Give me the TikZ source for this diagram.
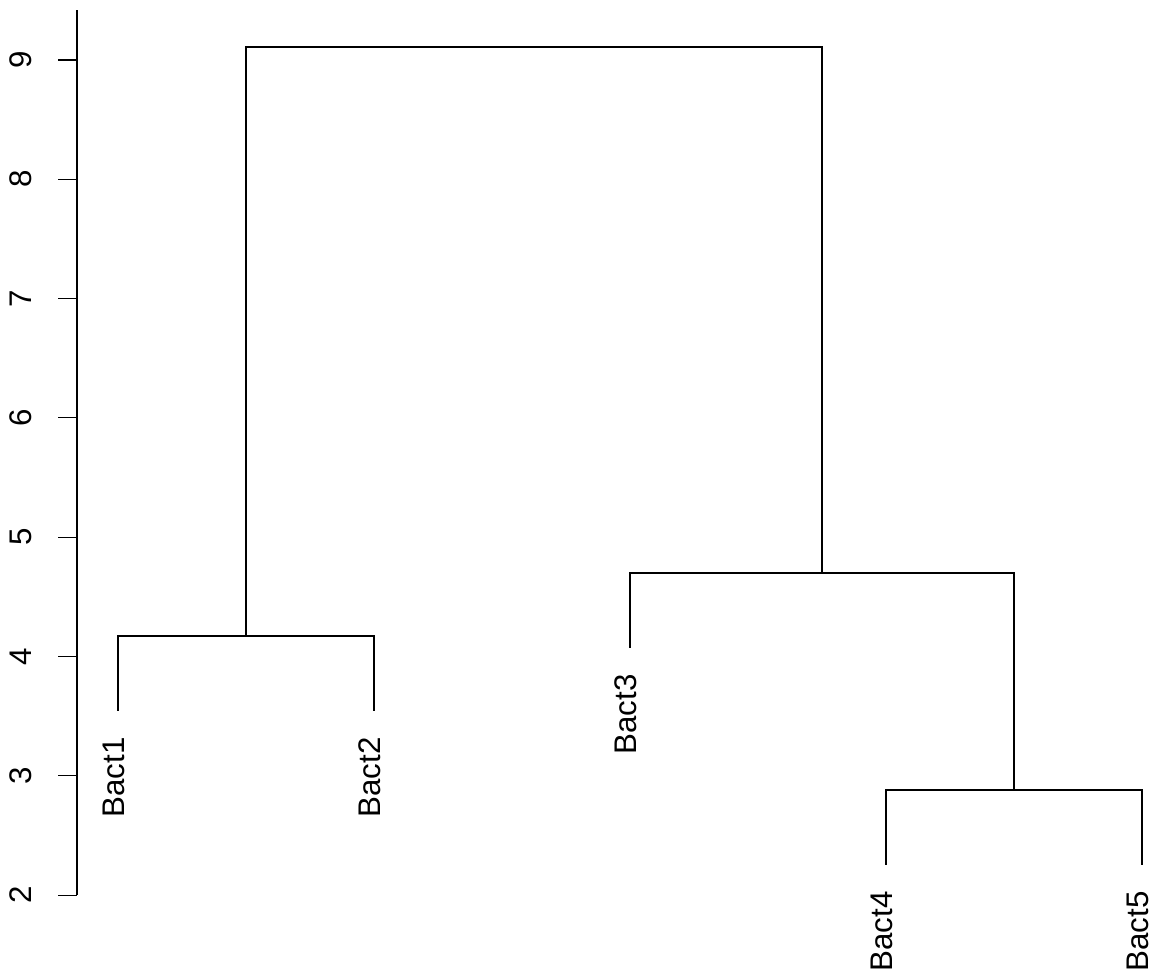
\documentclass[tikz,border=0pt]{standalone}
\usepackage{fontspec}
\setmainfont{Liberation Sans}
\usetikzlibrary{calc}

\tikzset{
  leaf/.style={rotate=90, anchor=east, inner sep=0pt},
  ticklab/.style={rotate=90, anchor=center, inner sep=0pt},
  branch/.style={line width=0.65pt, line cap=rect}
}

\begin{document}
\begin{tikzpicture}[x=5.12cm, y=2.386cm, font=\fontsize{17.8}{20}\selectfont]
\useasboundingbox (0.539,1.347) rectangle (5.043,9.503);
% y axis
\draw[line width=0.65pt] (0.840,2) -- (0.840,9.419);
\foreach \v in {2,...,9} {
  \draw[line width=0.65pt] (0.766,\v) -- (0.840,\v);
  \node[ticklab] (t\v) at (0.619,\v) {\v};
}
% leaves and merges
\coordinate (b1) at (1,3.551);
\coordinate (b2) at (2,3.551);
\coordinate (b3) at (3,4.080);
\coordinate (b4) at (4,2.261);
\coordinate (b5) at (5,2.261);
\coordinate (m12) at (1.5,4.172);
\coordinate (m45) at (4.5,2.881);
\coordinate (m345) at (3.75,4.700);
\coordinate (top) at (2.625,9.109);
\draw[branch] (b1) |- (m12) -| (b2);
\draw[branch] (b4) |- (m45) -| (b5);
\draw[branch] (b3) |- (m345) -| (m45);
\draw[branch] (m12) |- (top) -| (m345);
\node[leaf] (l1) at ([xshift=-0.08cm,yshift=-0.54cm]b1) {Bact1};
\node[leaf] (l2) at ([xshift=-0.08cm,yshift=-0.54cm]b2) {Bact2};
\node[leaf] (l3) at ([xshift=-0.08cm,yshift=-0.54cm]b3) {Bact3};
\node[leaf] (l4) at ([xshift=-0.08cm,yshift=-0.54cm]b4) {Bact4};
\node[leaf] (l5) at ([xshift=-0.08cm,yshift=-0.54cm]b5) {Bact5};
\end{tikzpicture}
\end{document}
